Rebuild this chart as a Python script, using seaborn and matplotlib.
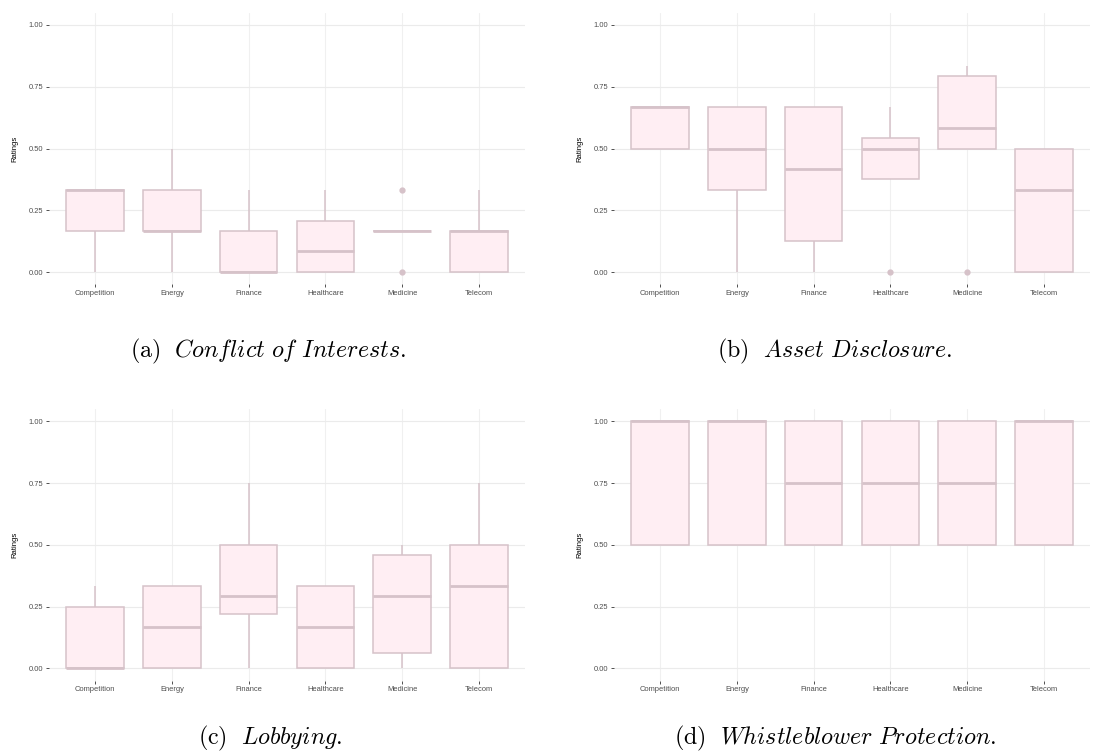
import pandas as pd
import matplotlib
matplotlib.use("Agg")
import matplotlib.pyplot as plt
import seaborn as sns

sectors = ["Competition", "Energy", "Finance", "Healthcare", "Medicine", "Telecom"]

# ratings per sector
conflict = {
    "Competition": [0, 0.167, 0.333, 0.333, 0.333],
    "Energy": [0, 0.167, 0.167, 0.167, 0.167, 0.333, 0.333, 0.333, 0.5],
    "Finance": [0, 0, 0, 0.167, 0.333],
    "Healthcare": [0, 0, 0.167, 0.333],
    "Medicine": [0, 0.167, 0.167, 0.167, 0.167, 0.167, 0.333],
    "Telecom": [0, 0, 0.167, 0.167, 0.333],
}
assets = {
    "Competition": [0.5, 0.5, 0.667, 0.667, 0.667],
    "Energy": [0, 0.333, 0.5, 0.667, 0.667],
    "Finance": [0, 0.167, 0.667, 0.667],
    "Healthcare": [0, 0.5, 0.5, 0.667],
    "Medicine": [0, 0.5, 0.5, 0.667, 0.833, 0.833],
    "Telecom": [0, 0, 0.333, 0.5, 0.5],
}
lobbying = {
    "Competition": [0, 0, 0, 0.25, 0.333],
    "Energy": [0, 0, 0.167, 0.333, 0.333],
    "Finance": [0, 0.1875, 0.25, 0.292, 0.5, 0.5, 0.75],
    "Healthcare": [0, 0, 0.167, 0.333, 0.333],
    "Medicine": [0, 0, 0.25, 0.333, 0.5, 0.5],
    "Telecom": [0, 0, 0.333, 0.5, 0.75],
}
whistle = {
    "Competition": [0.5, 0.5, 1, 1, 1],
    "Energy": [0.5, 0.5, 1, 1, 1],
    "Finance": [0.5, 0.5, 1, 1],
    "Healthcare": [0.5, 0.5, 1, 1],
    "Medicine": [0.5, 0.5, 1, 1],
    "Telecom": [0.5, 0.5, 1, 1, 1],
}
captions = [r"$\mathrm{(a)}\ \ \mathit{Conflict\ of\ Interests.}$",
            r"$\mathrm{(b)}\ \ \mathit{Asset\ Disclosure.}$",
            r"$\mathrm{(c)}\ \ \mathit{Lobbying.}$",
            r"$\mathrm{(d)}\ \ \mathit{Whistleblower\ Protection.}$"]
yticks = [0, 0.25, 0.5, 0.75, 1.0]
ytick_labels = ["0.00", "0.25", "0.50", "0.75", "1.00"]

sns.set_theme(style="white")
plt.rcParams["font.family"] = ["Liberation Sans", "DejaVu Sans"]
plt.rcParams["mathtext.fontset"] = "cm"

fill = "#FFEEF3"
edge = "#D6C2C9"

fig = plt.figure(figsize=(11.12, 7.53), dpi=100)
W, H = 1112, 753
# axes boxes in pixels: left, top, right, bottom
boxes = [(49, 12.6, 525, 284.4), (614, 12.6, 1090, 284.4),
         (49, 409, 525, 680.7), (614, 409, 1090, 680.7)]
cap_pos = [(268, 351), (835, 351), (270, 738), (835, 738)]

for panel, box, cap, cp in zip([conflict, assets, lobbying, whistle], boxes, captions, cap_pos):
    l, t, r, b = box
    ax = fig.add_axes([l / W, 1 - b / H, (r - l) / W, (b - t) / H])
    df = pd.DataFrame([(s, v) for s in sectors for v in panel[s]], columns=["sector", "rating"])
    sns.boxplot(data=df, x="sector", y="rating", order=sectors, ax=ax,
                color=fill, linecolor=edge, saturation=1, width=0.75, linewidth=1.1,
                showcaps=False,
                medianprops=dict(linewidth=2.0, color=edge),
                flierprops=dict(marker="o", markerfacecolor=edge, markeredgecolor=edge, markersize=3.5))
    ax.set_axisbelow(True)
    ax.xaxis.grid(True, color="#F0F0F0", linewidth=0.8)
    ax.yaxis.grid(True, color="#EBEBEB", linewidth=0.8)
    ax.set_xlim(-0.6, 5.6)
    ax.set_ylim(-0.05, 1.05)
    ax.set_yticks(yticks)
    ax.set_yticklabels(ytick_labels)
    ax.set_xlabel("")
    ax.set_ylabel("Ratings", fontsize=5.5, color="black")
    ax.yaxis.set_label_coords(-0.064, 0.5)
    ax.tick_params(axis="both", length=2.5, width=0.6, color="#333333",
                   labelsize=5.4, labelcolor="#4D4D4D", pad=1.5, bottom=True, left=True)
    sns.despine(ax=ax, left=True, bottom=True)
    fig.text(cp[0] / W, 1 - cp[1] / H, cap, fontsize=17.3, ha="center", va="center", color="black")

fig.savefig("out.png", dpi=100)
